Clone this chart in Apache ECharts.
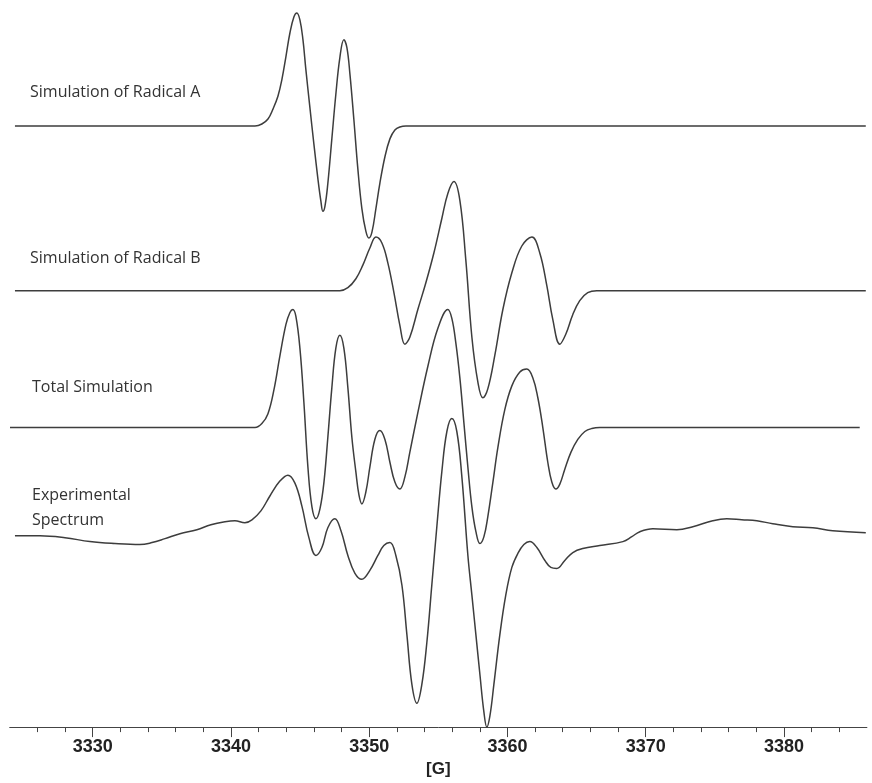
<!DOCTYPE html>
<html>
<head>
<meta charset="utf-8">
<script src="https://cdn.jsdelivr.net/npm/echarts@6/dist/echarts.min.js"></script>
<style>
  html, body { margin: 0; padding: 0; background: #fff; }
  #chart { width: 872px; height: 783px; }
</style>
</head>
<body>
<div id="chart"></div>
<script>
// field axis [G]
const fieldMin = 3324;
const fieldMax = 3386;
const majorTicks = [3330, 3340, 3350, 3360, 3370, 3380];

// trace names (left side captions)
const traceNames = ['Simulation of Radical A', 'Simulation of Radical B', 'Total Simulation', 'Experimental\nSpectrum'];

// each trace: [field G, intensity relative to its own baseline]
const radicalA = [
  [3324.38, 0], [3341.37, 0], [3341.74, 0], [3342.24, 2], [3342.68, 7], [3343.04, 17], [3343.40, 30],
  [3343.69, 47], [3343.98, 70], [3344.27, 94], [3344.56, 110], [3344.77, 114], [3344.99, 107],
  [3345.21, 87], [3345.42, 57], [3345.71, 19], [3346.00, -18], [3346.29, -53], [3346.51, -76],
  [3346.65, -86], [3346.80, -81], [3347.01, -58], [3347.30, -13], [3347.59, 32], [3347.88, 69],
  [3348.17, 87], [3348.39, 79], [3348.61, 52], [3348.89, 7], [3349.18, -43], [3349.47, -83],
  [3349.76, -106], [3349.98, -113], [3350.20, -107], [3350.49, -83], [3350.77, -58], [3351.14, -31],
  [3351.50, -13], [3351.86, -4], [3352.22, -1], [3352.66, 0], [3385.92, 0]
];

const radicalB = [
  [3324.38, 0], [3347.88, 0], [3348.46, 3], [3349.04, 12], [3349.55, 26], [3350.05, 43], [3350.49, 54],
  [3350.92, 48], [3351.35, 28], [3351.79, -2], [3352.22, -35], [3352.58, -54], [3352.94, -47],
  [3353.52, -19], [3354.10, 8], [3354.68, 38], [3355.26, 73], [3355.69, 98], [3356.13, 110],
  [3356.56, 91], [3356.99, 31], [3357.43, -47], [3357.86, -92], [3358.22, -108], [3358.58, -99],
  [3359.09, -65], [3359.67, -19], [3360.32, 18], [3361.04, 45], [3361.77, 54], [3362.34, 38],
  [3362.85, 5], [3363.28, -29], [3363.79, -54], [3364.22, -44], [3364.73, -24], [3365.23, -10],
  [3365.81, -2], [3366.46, 0], [3385.92, 0]
];

const totalSim = [
  [3324.02, 0], [3341.74, 0], [3342.24, 4], [3342.68, 14], [3343.11, 38], [3343.54, 72], [3343.98, 104],
  [3344.27, 116], [3344.48, 119], [3344.70, 112], [3344.99, 80], [3345.28, 25], [3345.57, -40],
  [3345.86, -80], [3346.15, -92], [3346.44, -82], [3346.73, -55], [3347.01, -10], [3347.30, 40],
  [3347.59, 80], [3347.88, 93], [3348.17, 80], [3348.46, 40], [3348.75, -10], [3349.04, -45],
  [3349.26, -68], [3349.47, -77], [3349.76, -65], [3350.05, -40], [3350.41, -12], [3350.77, -3],
  [3351.14, -12], [3351.50, -35], [3351.86, -55], [3352.22, -62], [3352.58, -50], [3352.94, -25],
  [3353.52, 15], [3354.25, 62], [3354.97, 100], [3355.69, 119], [3355.98, 110], [3356.27, 85],
  [3356.56, 50], [3356.85, 5], [3357.14, -40], [3357.43, -80], [3357.72, -105], [3358.01, -117],
  [3358.30, -110], [3358.58, -90], [3358.95, -55], [3359.31, -20], [3359.81, 18], [3360.32, 42],
  [3360.90, 56], [3361.40, 59], [3361.84, 50], [3362.20, 30], [3362.56, 0], [3362.92, -35],
  [3363.21, -55], [3363.50, -62], [3363.79, -57], [3364.15, -42], [3364.59, -25], [3365.09, -12],
  [3365.60, -4], [3366.10, -1], [3366.68, 0], [3385.48, 0]
];

const experimental = [
  [3324.38, 0], [3326.19, 0], [3328.00, -2], [3329.80, -6], [3331.61, -8], [3333.42, -9], [3334.29, -7],
  [3335.23, -3], [3336.31, 2], [3337.54, 6], [3338.55, 11], [3339.57, 14], [3340.29, 15], [3341.01, 13],
  [3341.52, 16], [3342.17, 25], [3342.82, 40], [3343.54, 55], [3344.12, 61], [3344.63, 53],
  [3345.13, 30], [3345.64, -2], [3346.15, -20], [3346.58, -12], [3347.01, 8], [3347.52, 17],
  [3347.96, 5], [3348.46, -20], [3348.97, -38], [3349.47, -44], [3350.05, -35], [3350.63, -20],
  [3351.06, -10], [3351.50, -7], [3351.93, -20], [3352.37, -50], [3352.73, -100], [3353.09, -150],
  [3353.45, -169], [3353.81, -150], [3354.17, -108], [3354.53, -50], [3354.90, 10], [3355.26, 65],
  [3355.62, 105], [3355.98, 118], [3356.34, 105], [3356.70, 60], [3357.14, -20], [3357.43, -60],
  [3357.72, -100], [3358.01, -140], [3358.30, -178], [3358.51, -193], [3358.73, -182], [3359.02, -150],
  [3359.45, -100], [3359.88, -60], [3360.32, -32], [3360.75, -18], [3361.19, -9],
  [3361.62, -6], [3362.13, -12], [3362.71, -25], [3363.14, -32], [3363.57, -33], [3364.15, -25],
  [3364.73, -17], [3365.45, -13], [3366.68, -10], [3368.35, -6], [3369.00, -1], [3369.58, 4], [3370.52, 7],
  [3372.25, 6], [3373.41, 9], [3374.85, 15], [3375.87, 17], [3376.95, 16], [3378.04, 15],
  [3379.19, 12], [3380.64, 9], [3382.09, 8], [3383.53, 5], [3385.92, 3]
];

// vertical stacking of the traces (baseline height above the field axis)
const traceOffsets = [606, 440, 302, 193];
const traces = [radicalA, radicalB, totalSim, experimental];

const chart = echarts.init(document.getElementById('chart'));

const lineColor = '#3d3d3d';

const series = traces.map((tr, i) => ({
  type: 'line',
  name: traceNames[i],
  data: tr.map(p => [p[0], p[1] + traceOffsets[i]]),
  smooth: 0.4,
  showSymbol: false,
  symbol: 'none',
  clip: false,
  lineStyle: { color: lineColor, width: 1.5 },
  emphasis: { disabled: true },
  silent: true
}));

// caption positions
const captionPos = [[30, 92], [30, 258], [32, 387], [32, 508]];
const graphics = traceNames.map((t, i) => ({
  type: 'text',
  x: captionPos[i][0],
  y: captionPos[i][1],
  style: {
    text: t,
    font: '16px "Open Sans"',
    fill: '#333',
    verticalAlign: 'middle',
    lineHeight: 25
  }
}));

chart.setOption({
  animation: false,
  backgroundColor: '#fff',
  grid: { left: 9.7, right: 5.1, top: 0, bottom: 50 },
  xAxis: {
    type: 'value',
    min: fieldMin,
    max: fieldMax,
    splitNumber: 6,
    name: '[G]',
    nameLocation: 'middle',
    nameGap: 31,
    nameTextStyle: { fontFamily: 'Liberation Sans', fontWeight: 'bold', fontSize: 17, color: '#222' },
    axisLine: { lineStyle: { color: '#444', width: 1 } },
    axisTick: { customValues: majorTicks, length: 10, lineStyle: { color: '#444' } },
    minorTick: { show: true, splitNumber: 5, length: 5, lineStyle: { color: '#444' } },
    axisLabel: {
      customValues: majorTicks,
      formatter: v => String(v),
      margin: 11,
      fontFamily: 'Liberation Sans',
      fontWeight: 'bold',
      fontSize: 18,
      color: '#222'
    },
    splitLine: { show: false },
    minorSplitLine: { show: false }
  },
  yAxis: {
    type: 'value',
    min: 0,
    max: 733,
    show: false
  },
  graphic: graphics,
  series: series
});
</script>
</body>
</html>
